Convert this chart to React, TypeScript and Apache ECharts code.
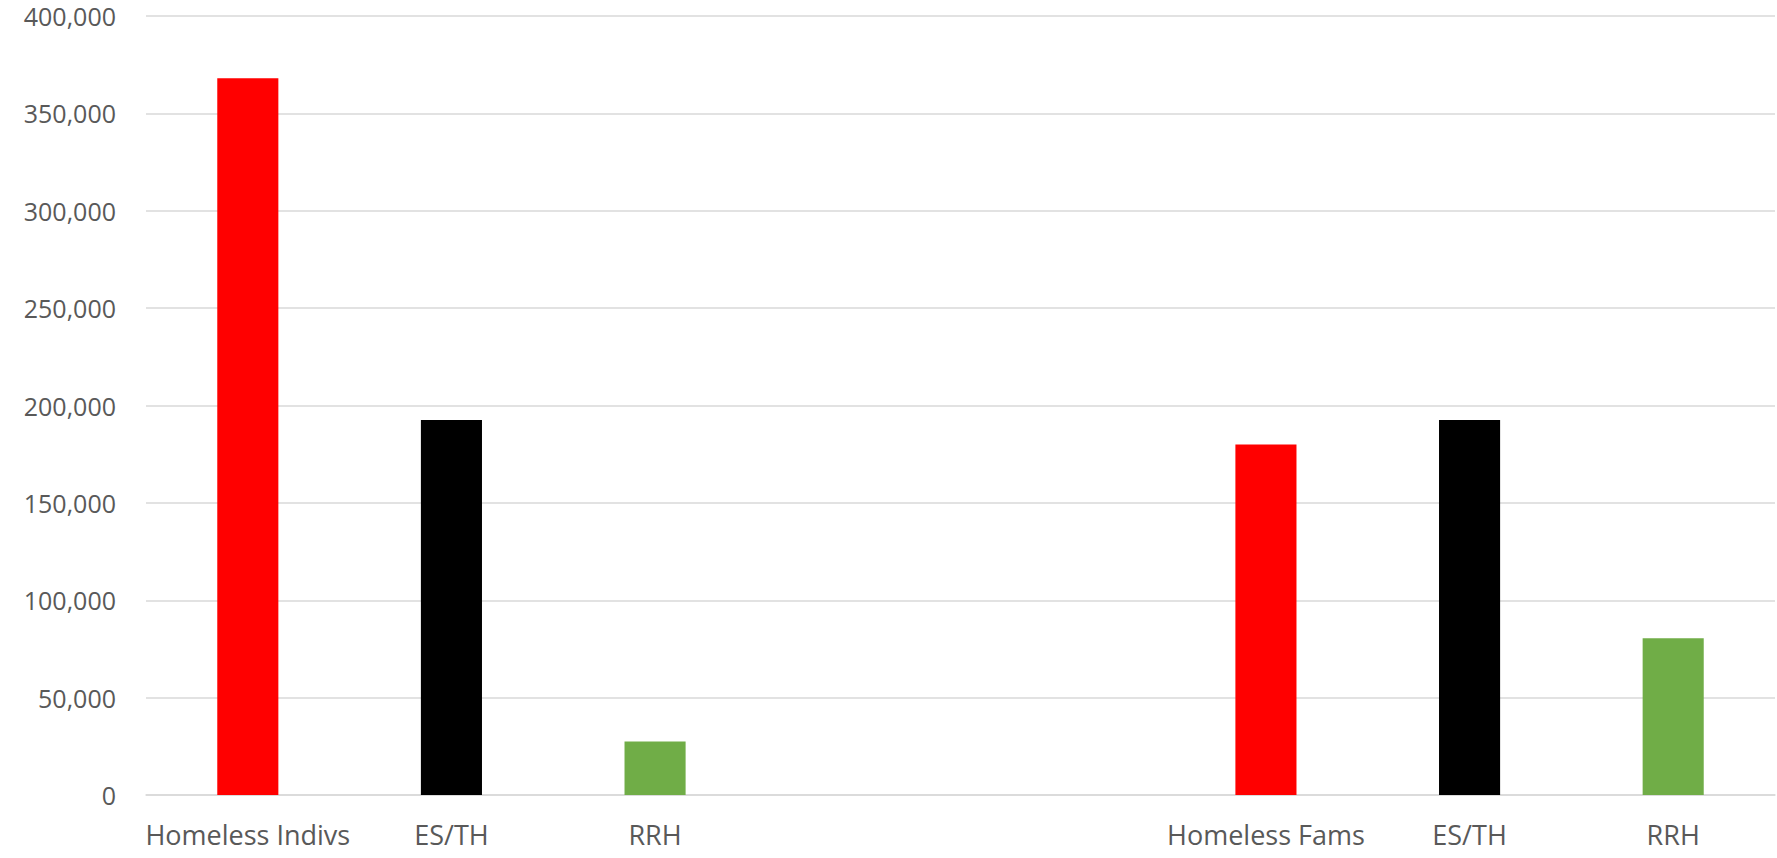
import React, { useEffect, useRef } from "react";
import * as echarts from "echarts";

const categories = ["Homeless Indivs", "ES/TH", "RRH", "", "", "Homeless Fams", "ES/TH", "RRH"];
const values: (number | null)[] = [368000, 192500, 27500, null, null, 180000, 192500, 80500];
const barColors = ["#FF0000", "#000000", "#70AD47", "#FF0000", "#FF0000", "#FF0000", "#000000", "#70AD47"];
const yTicks = { min: 0, max: 400000, interval: 50000 };

export default function App() {
  const ref = useRef<HTMLDivElement>(null);
  useEffect(() => {
    if (!ref.current) return;
    const chart = echarts.init(ref.current, undefined, { renderer: "svg" });
    chart.setOption({
      animation: false,
      backgroundColor: "#ffffff",
      grid: { left: 146, right: 2, top: 16, bottom: 63, containLabel: false },
      xAxis: {
        type: "category",
        data: categories,
        axisTick: { show: false },
        axisLine: { lineStyle: { color: "#d9d9d9", width: 1.5 } },
        axisLabel: {
          interval: 0,
          color: "#595959",
          fontFamily: "Open Sans",
          fontSize: 27,
          margin: 26,
        },
      },
      yAxis: {
        type: "value",
        min: yTicks.min,
        max: yTicks.max,
        interval: yTicks.interval,
        axisLine: { show: false },
        axisTick: { show: false },
        splitLine: { lineStyle: { color: "#d9d9d9", width: 1.5 } },
        axisLabel: {
          color: "#595959",
          fontFamily: "Open Sans",
          fontSize: 25,
          margin: 30,
          formatter: (v: number) => v.toLocaleString("en-US"),
        },
      },
      series: [
        {
          type: "bar",
          barWidth: "30%",
          data: values.map((v, i) => ({ value: v, itemStyle: { color: barColors[i] } })),
        },
      ],
    });
    return () => chart.dispose();
  }, []);
  return (
    <div
      ref={ref}
      style={{ position: "fixed", left: 0, top: 0, width: 1777, height: 858 }}
    />
  );
}
